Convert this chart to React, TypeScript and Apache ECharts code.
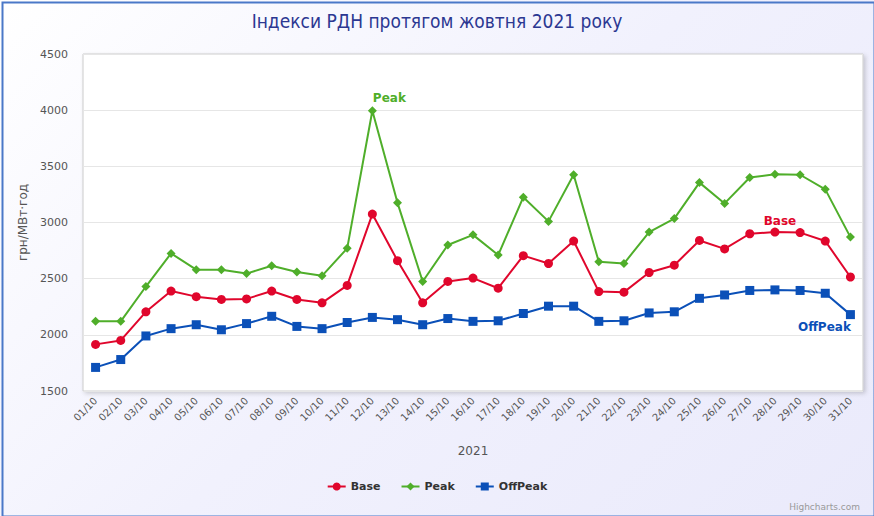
import React, { useEffect, useRef } from "react";
import * as echarts from "echarts";

const categories = [
  "01/10", "02/10", "03/10", "04/10", "05/10", "06/10", "07/10", "08/10", "09/10", "10/10",
  "11/10", "12/10", "13/10", "14/10", "15/10", "16/10", "17/10", "18/10", "19/10", "20/10",
  "21/10", "22/10", "23/10", "24/10", "25/10", "26/10", "27/10", "28/10", "29/10", "30/10", "31/10",
];

const baseValues = [
  1915, 1950, 2205, 2390, 2340, 2315, 2320, 2390, 2315, 2285,
  2440, 3075, 2660, 2285, 2475, 2505, 2415, 2705, 2635, 2835,
  2385, 2380, 2555, 2620, 2840, 2765, 2900, 2915, 2910, 2835, 2515,
];

const peakValues = [
  2120, 2120, 2430, 2725, 2580, 2580, 2545, 2615, 2560, 2525,
  2770, 3995, 3175, 2475, 2800, 2890, 2710, 3225, 3010, 3425,
  2650, 2635, 2915, 3035, 3355, 3170, 3400, 3430, 3425, 3295, 2870,
];

const offPeakValues = [
  1710, 1780, 1990, 2055, 2090, 2045, 2100, 2165, 2075, 2055,
  2110, 2155, 2135, 2090, 2145, 2120, 2125, 2190, 2255, 2255,
  2120, 2125, 2195, 2205, 2325, 2355, 2395, 2400, 2395, 2370, 2180,
];

const yTicks = { min: 1500, max: 4500, interval: 500 };

const BASE_COLOR = "#e0062c";
const PEAK_COLOR = "#4fae2a";
const OFF_COLOR = "#0b50b8";

function withLabel(values: number[], idx: number, text: string, color: string, position: string, offset: number[]) {
  return values.map((v, i) =>
    i === idx
      ? {
          value: v,
          label: {
            show: true,
            position,
            offset,
            formatter: text,
            color,
            fontWeight: "bold",
            fontSize: 12,
            fontFamily: "DejaVu Sans",
          },
        }
      : v
  );
}

export default function App() {
  const ref = useRef<HTMLDivElement>(null);

  useEffect(() => {
    if (!ref.current) return;
    const chart = echarts.init(ref.current, null, { renderer: "svg" });
    const font = "DejaVu Sans";
    chart.setOption({
      animation: false,
      backgroundColor: "transparent",
      title: {
        text: "Індекси РДН протягом жовтня 2021 року",
        left: "center",
        top: 6,
        textStyle: {
          color: "#2c3892",
          fontSize: 19,
          fontWeight: "normal",
          fontFamily: "DejaVu Sans Condensed, Liberation Sans Narrow, DejaVu Sans",
        },
      },
      grid: {
        left: 83,
        right: 11,
        top: 54,
        bottom: 125,
        show: true,
        backgroundColor: "#ffffff",
        borderColor: "#cccccc",
        borderWidth: 1,
        shadowColor: "rgba(0,0,0,0.18)",
        shadowBlur: 4,
        shadowOffsetX: 2,
        shadowOffsetY: 2,
      },
      legend: {
        bottom: 19,
        left: "center",
        itemGap: 20,
        itemWidth: 18,
        itemHeight: 10,
        textStyle: { color: "#333", fontWeight: "bold", fontSize: 11, fontFamily: font },
        data: ["Base", "Peak", "OffPeak"],
      },
      xAxis: {
        type: "category",
        data: categories,
        boundaryGap: true,
        name: "2021",
        nameLocation: "middle",
        nameGap: 54,
        nameTextStyle: { color: "#555", fontSize: 12, fontFamily: font },
        axisLine: { show: false },
        axisTick: { show: false },
        axisLabel: {
          rotate: 45,
          interval: 0,
          color: "#555",
          fontSize: 10,
          fontFamily: font,
          margin: 8,
        },
      },
      yAxis: {
        type: "value",
        min: yTicks.min,
        max: yTicks.max,
        interval: yTicks.interval,
        name: "грн/МВт·год",
        nameLocation: "middle",
        nameGap: 54,
        nameRotate: 90,
        nameTextStyle: { color: "#555", fontSize: 12, fontFamily: font },
        axisLine: { show: false },
        axisTick: { show: false },
        axisLabel: {
          color: "#555",
          fontSize: 11,
          fontFamily: font,
          margin: 15,
          formatter: (v: number) => String(v),
        },
        splitLine: { lineStyle: { color: "#e6e6e6", width: 1 } },
      },
      series: [
        {
          name: "Base",
          type: "line",
          data: withLabel(baseValues, 27, "Base", BASE_COLOR, "top", [5, 4]),
          color: BASE_COLOR,
          symbol: "circle",
          symbolSize: 9,
          lineStyle: { width: 2 },
        },
        {
          name: "Peak",
          type: "line",
          data: withLabel(peakValues, 11, "Peak", PEAK_COLOR, "top", [17, 3]),
          color: PEAK_COLOR,
          symbol: "diamond",
          symbolSize: 9,
          lineStyle: { width: 2 },
        },
        {
          name: "OffPeak",
          type: "line",
          data: withLabel(offPeakValues, 30, "OffPeak", OFF_COLOR, "bottom", [-26, -3]),
          color: OFF_COLOR,
          symbol: "rect",
          symbolSize: 9,
          lineStyle: { width: 2 },
        },
      ],
      graphic: [
        {
          type: "rect",
          left: 0,
          top: 0,
          shape: { x: 1, y: 1, width: 872, height: 514 },
          style: { fill: "none", stroke: "#4a78c8", lineWidth: 2 },
          silent: true,
        },
        {
          type: "text",
          right: 14,
          bottom: 5,
          style: { text: "Highcharts.com", fill: "#999", fontSize: 9, fontFamily: font },
        },
      ],
    });
    return () => chart.dispose();
  }, []);

  return (
    <div
      ref={ref}
      style={{
        position: "fixed",
        left: 0,
        top: 0,
        width: 874,
        height: 516,
        background: "linear-gradient(135deg, #ffffff 0%, #f1f1fd 50%, #eaeafb 100%)",
      }}
    />
  );
}
